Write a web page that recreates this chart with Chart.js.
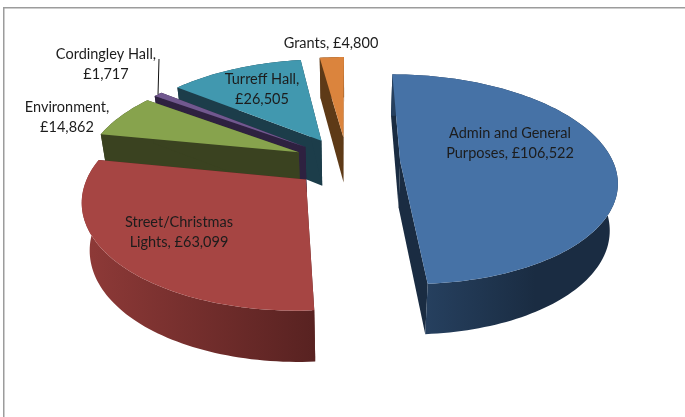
<!DOCTYPE html>
<html>
<head>
<meta charset="utf-8">
<script src="https://cdn.jsdelivr.net/npm/chart.js@4/dist/chart.umd.min.js"></script>
<style>
html, body { margin: 0; padding: 0; background: #fff; overflow: hidden; }
#wrap { position: absolute; left: 0; top: 0; width: 685px; height: 417px; }
</style>
</head>
<body>
<div id="wrap"><canvas id="budget_chart_Canvas"></canvas></div>
<script>
// spending by area
const categories = ['Admin and General Purposes', 'Street/Christmas Lights', 'Environment', 'Cordingley Hall', 'Turreff Hall', 'Grants'];
const amounts = [106522, 63099, 14862, 1717, 26505, 4800];
const labelLines = [
  ['Admin and General', 'Purposes, £106,522'],
  ['Street/Christmas', 'Lights, £63,099'],
  ['Environment,', '£14,862'],
  ['Cordingley Hall,', '£1,717'],
  ['Turreff Hall,', '£26,505'],
  ['Grants, £4,800']
];
const topColors = ['#4672a6', '#a64543', '#87a34d', '#71588f', '#4198af', '#db843d'];
const wallLight = ['#26405f', '#8f3a38', '#3a4220', '#2e2140', '#1c3d4a', '#5e3a17'];
const wallDark = ['#1a2c42', '#582221', '#3a4220', '#2e2140', '#1c3d4a', '#5e3a17'];

// label centres on the page
const labelX = [510, 179, 67, 106, 262, 331];
const labelY = [133, 222, 107, 54, 79, 43];

// back slices first so the front ones paint over them
const paintOrder = [5, 4, 3, 2, 1, 0];

// how the flat pie is tipped back
const view = { cx: 347, cy: 162, a: 213, b: 102, k: 0.172 };

function project(u, v, z) {
  const w = 1 - view.k * v;
  const h = z * (46 + 4.5 * v);
  const shrink = 1 - 0.03 * z;
  return [view.cx + (view.a * u / w) * shrink, view.cy + view.b * v / w + h];
}

function tracePath(ctx, pts) {
  ctx.beginPath();
  pts.forEach((p, i) => i ? ctx.lineTo(p[0], p[1]) : ctx.moveTo(p[0], p[1]));
  ctx.closePath();
}

const tippedPie = {
  id: 'tippedPie',
  beforeDatasetsDraw(chart) {
    const ctx = chart.ctx;
    const arcs = chart.getDatasetMeta(0).data;

    // chart frame
    ctx.save();
    ctx.strokeStyle = '#9c9c9c';
    ctx.lineWidth = 1.5;
    ctx.strokeRect(3.75, 7.75, 800, 600);

    paintOrder.forEach(i => {
      const arc = arcs[i];
      const e = arc.options.offset / 100;
      const mid = (arc.startAngle + arc.endAngle) / 2;
      const ox = e * Math.cos(mid);
      const oy = e * Math.sin(mid);
      const rim = [];
      const steps = Math.max(4, Math.ceil((arc.endAngle - arc.startAngle) * 40));
      for (let s = 0; s <= steps; s++) {
        const t = arc.startAngle + (arc.endAngle - arc.startAngle) * s / steps;
        rim.push([ox + Math.cos(t), oy + Math.sin(t)]);
      }
      const first = rim[0];
      const last = rim[rim.length - 1];
      const flat = z => pts => pts.map(p => project(p[0], p[1], z));

      const top = flat(0)(rim);
      const bottom = flat(1)(rim);
      const xs = top.concat(bottom).map(p => p[0]);
      const grad = ctx.createLinearGradient(Math.min(...xs), 0, Math.max(...xs), 0);
      if (i === 0) {
        // the blue wall darkens quickly, only its left end is lighter
        const frontX = project(last[0], last[1], 1)[0];
        const g = ctx.createLinearGradient(frontX, 0, frontX + 110, 0);
        g.addColorStop(0, wallLight[i]);
        g.addColorStop(1, wallDark[i]);
        ctx.fillStyle = g;
      } else {
        grad.addColorStop(0, wallLight[i]);
        grad.addColorStop(1, wallDark[i]);
        ctx.fillStyle = grad;
      }
      const wallFill = ctx.fillStyle;

      // cut faces
      ctx.fillStyle = wallDark[i];
      [first, last].forEach(q => {
        tracePath(ctx, [project(ox, oy, 0), project(q[0], q[1], 0), project(q[0], q[1], 1), project(ox, oy, 1)]);
        ctx.fill();
      });
      // round outer wall
      ctx.fillStyle = wallFill;
      tracePath(ctx, top.concat(bottom.slice().reverse()));
      ctx.fill();
      // top face
      ctx.fillStyle = arc.options.backgroundColor;
      tracePath(ctx, [project(ox, oy, 0)].concat(top));
      ctx.fill();
    });

    // leader line for the thin slice
    ctx.strokeStyle = '#111';
    ctx.lineWidth = 1;
    ctx.beginPath();
    const thin = arcs[3];
    const thinMid = (thin.startAngle + thin.endAngle) / 2;
    const thinE = thin.options.offset / 100;
    const tip = project(thinE * Math.cos(thinMid) + Math.cos(thinMid), thinE * Math.sin(thinMid) + Math.sin(thinMid), 0);
    ctx.moveTo(labelX[3] + 53, labelY[3] + 5);
    ctx.lineTo(tip[0], tip[1]);
    ctx.stroke();

    // slice labels
    ctx.font = '14.5px Lato';
    ctx.textAlign = 'center';
    ctx.textBaseline = 'middle';
    ctx.fillStyle = '#1c1c1c';
    labelLines.forEach((lines, i) => {
      lines.forEach((line, n) => ctx.fillText(line, labelX[i], labelY[i] + n * 20));
    });
    ctx.restore();
    return false;
  }
};

new Chart(document.getElementById('budget_chart_Canvas'), {
  type: 'pie',
  data: {
    labels: categories,
    datasets: [{
      data: amounts,
      backgroundColor: topColors,
      borderWidth: 0,
      offset: 25
    }]
  },
  options: {
    responsive: true,
    maintainAspectRatio: false,
    animation: false,
    rotation: 0,
    plugins: {
      legend: { display: false },
      title: { display: false },
      tooltip: { enabled: false }
    }
  },
  plugins: [tippedPie]
});
</script>
</body>
</html>
